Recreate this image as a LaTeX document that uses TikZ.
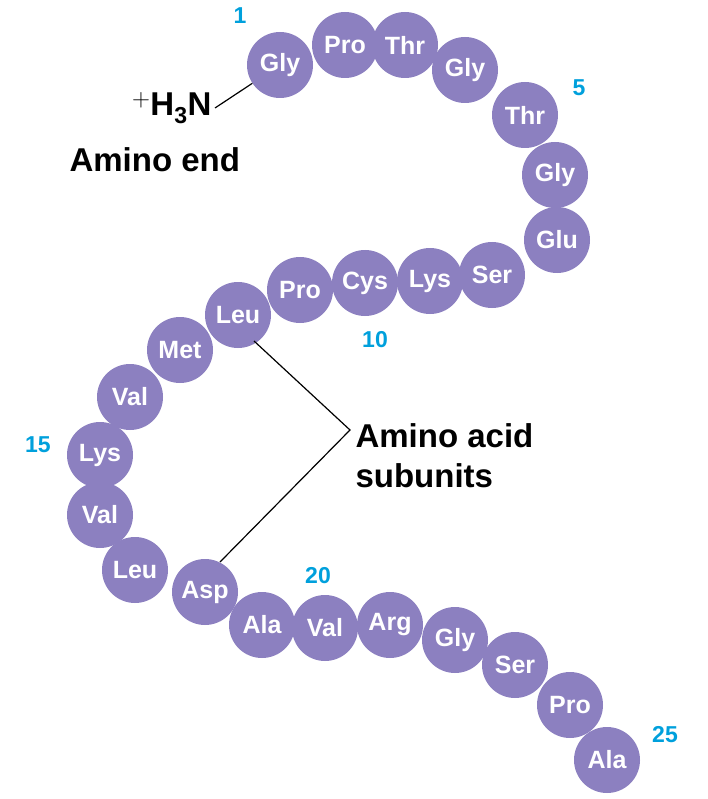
\documentclass[tikz,border=0pt]{standalone}
\usepackage{fontspec}
\setmainfont{Liberation Sans}
\begin{document}
\begin{tikzpicture}[x=1pt,y=-1pt,
  aa/.style={circle,fill=aacol,minimum size=66pt,inner sep=0pt,text=white,font=\bfseries\fontsize{25}{25}\selectfont},
  num/.style={text=numcol,font=\bfseries\fontsize{23}{23}\selectfont},
  lbl/.style={font=\bfseries\fontsize{33}{40}\selectfont,align=left}]
\definecolor{aacol}{RGB}{140,128,192}
\definecolor{numcol}{RGB}{0,160,220}
\useasboundingbox (0,0) rectangle (707,799);
\foreach \n/\x/\y/\t in {1/280/65/Gly,2/345/45/Pro,3/405/45/Thr,4/465/70/Gly,5/525/115/Thr,6/555/175/Gly,7/557/240/Glu,8/492/275/Ser,9/430/281/Lys,10/365/283/Cys,11/300/290/Pro,12/238/315/Leu,13/180/350/Met,14/130/397/Val,15/100/455/Lys,16/100/515/Val,17/135/570/Leu,18/205/592/Asp,19/262/625/Ala,20/325/628/Val,21/390/625/Arg,22/455/640/Gly,23/515/665/Ser,24/570/705/Pro,25/607/760/Ala}
  \node[aa] (a\n) at (\x,\y) {\t};
\node[num] (n1) at (240,16) {1};
\node[num] (n5) at (579,88) {5};
\node[num] (n10) at (375,340) {10};
\node[num] (n15) at (38,445) {15};
\node[num] (n20) at (318,576) {20};
\node[num] (n25) at (665,735) {25};
\node[lbl,anchor=east] (h3n) at (215,108) {$^{\mathbf{+}}$H$_{\mathbf 3}$N};
\node[lbl,anchor=west] (ae) at (66,160) {Amino end};
\draw[line width=1.2pt] (h3n.east) -- (a1);
\node[lbl,anchor=west] (sub) at (352,456) {Amino acid\\subunits};
\coordinate (v) at (350,430);
\draw[line width=1.2pt] (254,341) -- (v) -- (220,562);
\end{tikzpicture}
\end{document}
